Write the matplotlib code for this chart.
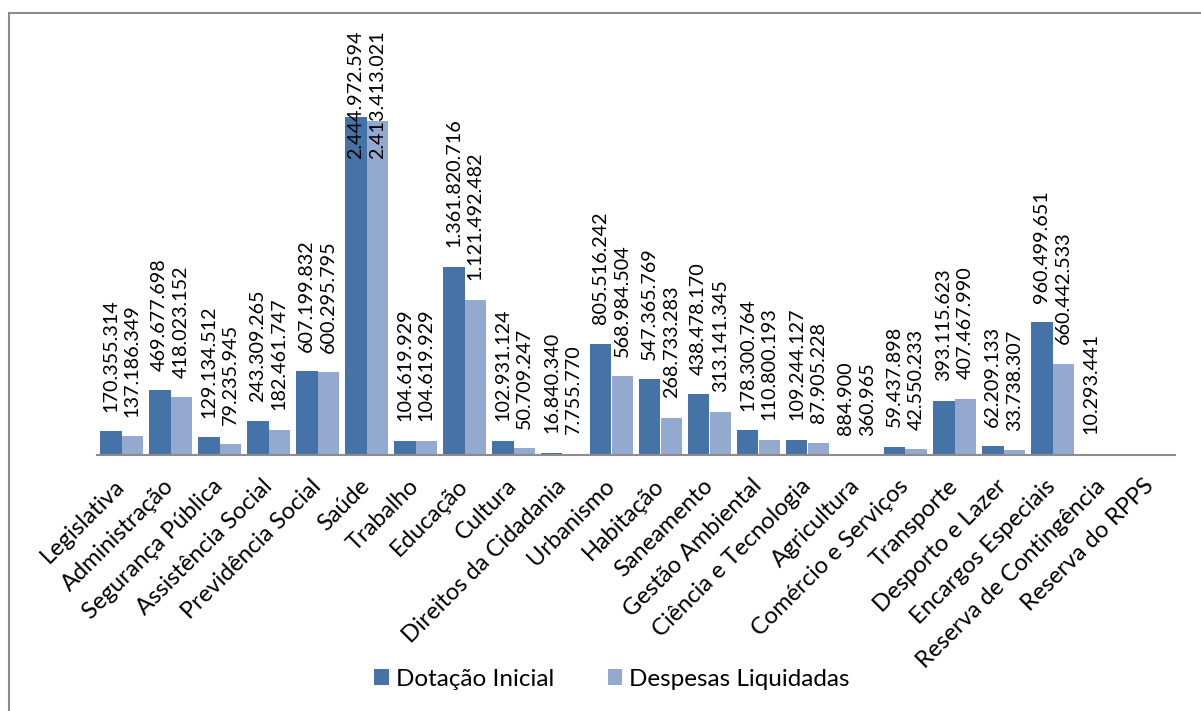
import matplotlib
matplotlib.use("Agg")
from matplotlib import pyplot as plt
from matplotlib.lines import Line2D
import numpy as np

categorias = ['Legislativa', 'Administração', 'Segurança Pública', 'Assistência Social',
              'Previdência Social', 'Saúde', 'Trabalho', 'Educação', 'Cultura',
              'Direitos da Cidadania', 'Urbanismo', 'Habitação', 'Saneamento',
              'Gestão Ambiental', 'Ciência e Tecnologia', 'Agricultura',
              'Comércio e Serviços', 'Transporte', 'Desporto e Lazer',
              'Encargos Especiais', 'Reserva de Contingência', 'Reserva do RPPS']
dotacao_inicial = [170355314, 469677698, 129134512, 243309265, 607199832, 2444972594,
                   104619929, 1361820716, 102931124, 16840340, 805516242, 547365769,
                   438478170, 178300764, 109244127, 884900, 59437898, 393115623,
                   62209133, 960499651, 10293441, 0]
despesas_liquidadas = [137186349, 418023152, 79235945, 182461747, 600295795, 2413413021,
                       104619929, 1121492482, 50709247, 7755770, 568984504, 268733283,
                       313141345, 110800193, 87905228, 360965, 42550233, 407467990,
                       33738307, 660442533, 0, 0]
series = ['Dotação Inicial', 'Despesas Liquidadas']

cor_escura = '#4572A7'
cor_clara = '#93A9D0'
plt.rcParams['font.family'] = ['Lato', 'DejaVu Sans']

fig = plt.figure(figsize=(12.01, 7.11), dpi=100)
ax = fig.add_axes([97 / 1201, 256 / 711, 1078 / 1201, 415 / 711])

x = np.arange(len(categorias))
w = 0.44
ax.bar(x - w / 2, dotacao_inicial, w, color=cor_escura, label=series[0])
ax.bar(x + w / 2, despesas_liquidadas, w, color=cor_clara, label=series[1])


def fmt(v):
    return f'{v:,}'.replace(',', '.')


# labels acima das barras (Saúde fica presa no topo, como no original)
cap = 2.0e9
for xi, v in zip(x - w / 2, dotacao_inicial):
    if v > 0:
        ax.annotate(fmt(v), (xi, min(v, cap)), xytext=(0, 14), textcoords='offset points',
                    rotation=90, ha='center', va='bottom', fontsize=14.2)
for xi, v in zip(x + w / 2, despesas_liquidadas):
    if v > 0:
        ax.annotate(fmt(v), (xi, min(v, cap)), xytext=(0, 14), textcoords='offset points',
                    rotation=90, ha='center', va='bottom', fontsize=14.2)

ax.set_xlim(-0.5, len(categorias) - 0.5)
ax.set_ylim(0, 3.0e9)
ax.set_yticks([])
ax.set_xticks(x)
ax.set_xticklabels(categorias, rotation=45, ha='right', va='center',
                   rotation_mode='anchor', fontsize=17)
ax.tick_params(axis='x', length=0, pad=20)
for s in ['top', 'right', 'left']:
    ax.spines[s].set_visible(False)
ax.spines['bottom'].set_color('#8c8c8c')
ax.spines['bottom'].set_linewidth(1.5)

fig.legend(loc='center', bbox_to_anchor=(612 / 1201, 1 - 679 / 711), ncol=2,
           frameon=False, fontsize=17.5, handlelength=0.6, handleheight=0.6,
           handletextpad=0.3, columnspacing=2.2)

# moldura do gráfico (só topo e esquerda aparecem)
fig.add_artist(Line2D([9 / 1201, 9 / 1201], [0, 1 - 13 / 711], color='#8c8c8c', lw=1.5,
                      transform=fig.transFigure))
fig.add_artist(Line2D([9 / 1201, 1], [1 - 13 / 711, 1 - 13 / 711], color='#8c8c8c', lw=1.5,
                      transform=fig.transFigure))

plt.savefig('out.png', dpi=100)
